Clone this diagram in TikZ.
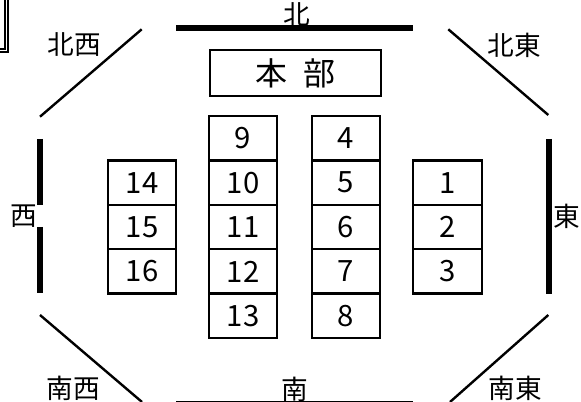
\documentclass[tikz,border=0pt]{standalone}
\usepackage{fontspec}
\setmainfont{Noto Sans CJK JP}
\begin{document}
\begin{tikzpicture}[x=0.75pt, y=-0.75pt, line join=miter,
		cell/.style={draw, line width=1.8pt, minimum width=51.4pt, minimum height=33.3pt, inner sep=0pt, font=\fontsize{22}{26}\selectfont},
		dir/.style={inner sep=0pt, font=\fontsize{20}{24}\selectfont},
		wall/.style={line width=4.3pt},
		corner/.style={line width=1.8pt}]
			\def\h{44.4}
			\def\ytop{116}
			\useasboundingbox (0,0) rectangle (581,402);
			\draw [double, line width=1.4pt, double distance=1.2pt] (-40,-10) rectangle (6.5,50.5);
			% walls and corners
			\node [dir] (n) at (297,14) {北};
			\node [dir] (s) at (295,389) {南};
			\node [dir] (w) at (24,216) {西};
			\node [dir] (e) at (567,216) {東};
			\draw [wall] (176,28)--(413,28);
			\draw [wall] (176,404)--(413,404);
			\draw [wall] (39.7,139)--(39.7,205) (39.7,227)--(39.7,293);
			\draw [wall] (549,139)--(549,294);
			\draw [corner] (40,116.7)--(141.7,29.3)
			(448.3,29.3)--(548.3,115)
			(40,315)--(142,402)
			(548.3,315)--(450,402);
			\node [dir] (nw) at (74,45) {北西};
			\node [dir] (ne) at (514.5,45) {北東};
			\node [dir] (sw) at (73.3,388) {南西};
			\node [dir] (se) at (515,388) {南東};
			% tables
			\node [draw, line width=1.8pt, minimum width=128pt, minimum height=34.5pt, inner sep=0pt, font=\fontsize{24}{28}\selectfont] (hq) at (295.5,73) {本\hspace{0.5em}部};
			\foreach \n [count=\i] in {9,...,13}
				\node [cell] (b\n) at (243,{\ytop+(\i-0.5)*\h}) {\n};
			\foreach \n [count=\i] in {4,...,8}
				\node [cell] (b\n) at (346,{\ytop+(\i-0.5)*\h}) {\n};
			\foreach \n [count=\i] in {14,15,16}
				\node [cell] (b\n) at (142,{\ytop+(\i+0.5)*\h}) {\n};
			\foreach \n [count=\i] in {1,2,3}
				\node [cell] (b\n) at (447.5,{\ytop+(\i+0.5)*\h}) {\n};
		\end{tikzpicture}
\end{document}
